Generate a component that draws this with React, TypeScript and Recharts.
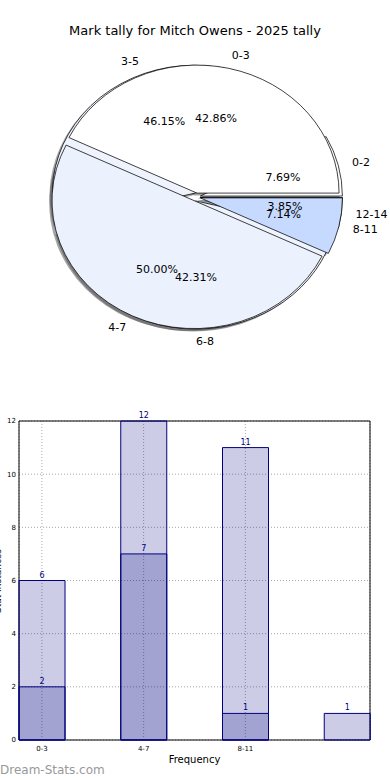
import React from "react";
import {
    PieChart,
    Pie,
    BarChart,
    Bar,
    XAxis,
    YAxis,
    CartesianGrid,
    LabelList,
    ReferenceArea,
} from "recharts";

// pie: this season vs. career spread
const seasonLabels = ["0-3", "4-7", "8-11"];
const seasonValues = [6, 7, 1];
const careerLabels = ["0-2", "3-5", "6-8", "12-14"];
const careerValues = [2, 12, 11, 1];

// bars
const barCategories = ["0-3", "4-7", "8-11", "12-14"];
const totalCounts = [6, 12, 11, 1];
const seasonCounts: (number | null)[] = [2, 7, 1, null];
const yTicks = [0, 2, 4, 6, 8, 10, 12];

const SEASON_COLORS = ["#ffffff", "#ebf1fd", "#c6d9fe"];
const CAREER_COLORS = ["#ffffff", "#eef3fd", "#eef3fd", "#c6d9fe"];

const FONT = "DejaVu Sans";
const SX = 1.11; // matplotlib pie is a bit wider than tall here
const CX = 196;
const CY = 197;
const R = 128;
const EXPLODE = 4;

type Mode = "shadow" | "wedge" | "label";

function pieSlices(labels: string[], values: number[], colors: string[], key: string, mode: Mode) {
    const total = values.reduce((a, b) => a + b, 0);
    let acc = 0;
    return values.map((v, i) => {
        const a0 = (acc / total) * 360;
        acc += v;
        const a1 = (acc / total) * 360;
        const mid = (a0 + a1) / 2;
        const rad = (mid * Math.PI) / 180;
        let cx = CX + EXPLODE * Math.cos(rad);
        let cy = CY - EXPLODE * Math.sin(rad);
        if (mode === "shadow") {
            cx -= 2.5;
            cy += 2.5;
        }
        const entry = { name: labels[i], value: v, share: v / total };

        const renderLabel = () => {
            const lx = cx + R * 1.1 * Math.cos(rad);
            const ly = cy - R * 1.1 * Math.sin(rad);
            const px = cx + R * 0.6 * Math.cos(rad);
            const py = cy - R * 0.6 * Math.sin(rad);
            const anchor = Math.cos(rad) > -0.001 ? "start" : "end";
            return (
                <g>
                    <g transform={`translate(${lx} ${ly}) scale(${1 / SX} 1)`}>
                        <text textAnchor={anchor} dominantBaseline="central" fontSize={11} fill="#000" fontFamily={FONT}>
                            {entry.name}
                        </text>
                    </g>
                    <g transform={`translate(${px} ${py}) scale(${1 / SX} 1)`}>
                        <text textAnchor="middle" dominantBaseline="central" fontSize={11} fill="#000" fontFamily={FONT}>
                            {(entry.share * 100).toFixed(2) + "%"}
                        </text>
                    </g>
                </g>
            );
        };

        return (
            <Pie
                key={`${key}-${mode}-${i}`}
                data={[entry]}
                dataKey="value"
                nameKey="name"
                cx={cx}
                cy={cy}
                outerRadius={R}
                startAngle={a0}
                endAngle={a1}
                fill={mode === "shadow" ? "#4c4c4c" : mode === "label" ? "none" : colors[i]}
                fillOpacity={mode === "shadow" ? 0.5 : 1}
                stroke={mode === "wedge" ? "#000" : "none"}
                strokeWidth={0.7}
                labelLine={false}
                label={mode === "label" ? renderLabel : false}
                isAnimationActive={false}
            />
        );
    });
}

export default function App() {
    const barData = barCategories.map((name, i) => ({
        pos: i,
        name,
        total: totalCounts[i],
        season: seasonCounts[i],
    }));

    return (
        <div
            style={{
                position: "absolute",
                left: 0,
                top: 0,
                width: 390,
                height: 780,
                overflow: "hidden",
                background: "#fff",
                fontFamily: FONT,
            }}
        >
            <div style={{ position: "absolute", top: 23, width: 390, textAlign: "center", fontSize: 13 }}>
                Mark tally for Mitch Owens - 2025 tally
            </div>

            {/* Pie */}
            <div
                style={{
                    position: "absolute",
                    top: 0,
                    left: 0,
                    width: 390,
                    height: 370,
                    transform: `scaleX(${SX})`,
                    transformOrigin: `${CX}px 0px`,
                }}
            >
                <PieChart width={390} height={370} margin={{ top: 0, right: 0, bottom: 0, left: 0 }}>
                    {pieSlices(careerLabels, careerValues, CAREER_COLORS, "career", "shadow")}
                    {pieSlices(seasonLabels, seasonValues, SEASON_COLORS, "season", "shadow")}
                    {pieSlices(careerLabels, careerValues, CAREER_COLORS, "career", "wedge")}
                    {pieSlices(seasonLabels, seasonValues, SEASON_COLORS, "season", "wedge")}
                    {pieSlices(careerLabels, careerValues, CAREER_COLORS, "career", "label")}
                    {pieSlices(seasonLabels, seasonValues, SEASON_COLORS, "season", "label")}
                </PieChart>
            </div>

            {/* Bars */}
            <div style={{ position: "absolute", top: 400, left: 0 }}>
                <BarChart
                    width={390}
                    height={380}
                    data={barData}
                    margin={{ top: 21, right: 20, bottom: 26, left: 4 }}
                    barGap={-46}
                >
                    <CartesianGrid stroke="#a8a8a8" strokeDasharray="1 2" />
                    <XAxis
                        type="number"
                        dataKey="pos"
                        domain={[-0.225, 3.225]}
                        ticks={[0, 1, 2]}
                        tickFormatter={(v: number) => barCategories[v]}
                        height={14}
                        axisLine={false}
                        tickLine={false}
                        tickSize={4}
                        tickMargin={2}
                        tick={{ fontSize: 7, fill: "#000", fontFamily: FONT }}
                        label={{ value: "Frequency", position: "bottom", offset: 2, fontSize: 10, fill: "#000", fontFamily: FONT }}
                    />
                    <YAxis
                        type="number"
                        domain={[0, 12]}
                        ticks={yTicks}
                        width={15}
                        axisLine={false}
                        tickLine={false}
                        tickSize={3}
                        tickMargin={0}
                        tick={{ fontSize: 7, fill: "#000", fontFamily: FONT }}
                    />
                    <Bar dataKey="total" barSize={46} fill="#000080" fillOpacity={0.2} stroke="#000080" strokeWidth={1} isAnimationActive={false}>
                        <LabelList dataKey="total" position="top" offset={3} fill="#000080" fontSize={8} fontFamily={FONT} />
                    </Bar>
                    <Bar dataKey="season" barSize={46} fill="#000080" fillOpacity={0.2} stroke="#000080" strokeWidth={1} isAnimationActive={false}>
                        <LabelList dataKey="season" position="top" offset={3} fill="#000080" fontSize={8} fontFamily={FONT} />
                    </Bar>
                    <ReferenceArea x1={-0.225} x2={3.225} y1={0} y2={12} fill="none" stroke="#000" strokeWidth={1} ifOverflow="visible" />
                </BarChart>
            </div>

            <div
                style={{
                    position: "absolute",
                    left: -2,
                    top: 581,
                    transform: "translate(-50%, -50%) rotate(-90deg)",
                    fontSize: 9,
                    whiteSpace: "nowrap",
                }}
            >
                Stat Instances
            </div>

            <div style={{ position: "absolute", left: 0, top: 763, fontSize: 12, color: "#999999" }}>
                Dream-Stats.com
            </div>
        </div>
    );
}
